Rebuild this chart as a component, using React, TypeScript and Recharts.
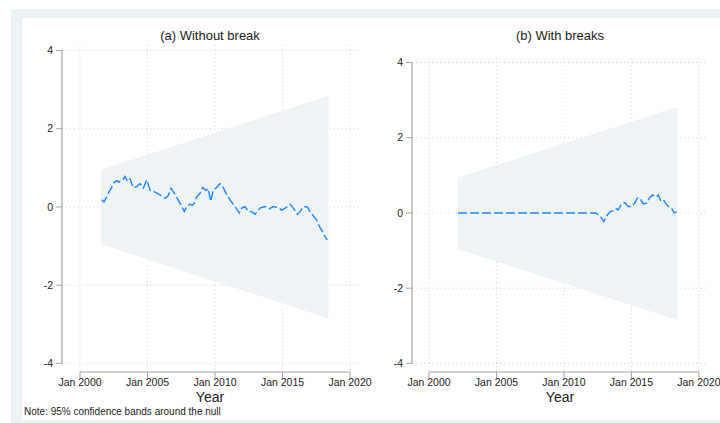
import React from "react";
import {
  Area,
  CartesianGrid,
  ComposedChart,
  Line,
  ReferenceLine,
  XAxis,
  YAxis,
} from "recharts";

// Tick values shared by both panels
const yearTicks = [2000, 2005, 2010, 2015, 2020];
const valueTicks = [-4, -2, 0, 2, 4];

// (a) Without break: confidence band around the null
const bandAYears = [2001.55, 2018.4];
const bandALow = [-0.95, -2.85];
const bandAHigh = [0.95, 2.84];

// (a) Without break: recursive statistic
const seriesAYears = [
  2001.61, 2001.78, 2001.98, 2002.17, 2002.35, 2002.44, 2002.72, 2002.88,
  2003.04, 2003.2, 2003.33, 2003.53, 2003.7, 2003.95, 2004.2, 2004.44, 2004.69,
  2004.94, 2005.19, 2005.4, 2005.56, 2005.75, 2005.93, 2006.12, 2006.3, 2006.54,
  2006.74, 2006.99, 2007.24, 2007.48, 2007.73, 2007.9, 2008.15, 2008.3, 2008.47,
  2008.64, 2008.89, 2009.09, 2009.33, 2009.5, 2009.68, 2009.87, 2010.13,
  2010.37, 2010.57, 2010.87, 2011.11, 2011.48, 2011.8, 2011.98, 2012.22,
  2012.47, 2012.72, 2012.96, 2013.33, 2013.7, 2014.02, 2014.32, 2014.69,
  2014.94, 2015.26, 2015.56, 2015.8, 2016.1, 2016.3, 2016.54, 2016.84, 2017.04,
  2017.33, 2017.53, 2017.73, 2017.9, 2018.15, 2018.32,
];
const seriesAValues = [
  0.18, 0.13, 0.26, 0.4, 0.5, 0.6, 0.67, 0.63, 0.69, 0.7, 0.78, 0.65, 0.72,
  0.49, 0.52, 0.6, 0.48, 0.69, 0.43, 0.41, 0.38, 0.34, 0.31, 0.26, 0.22, 0.29,
  0.48, 0.35, 0.2, 0.05, -0.12, 0.01, 0.07, 0.04, 0.09, 0.26, 0.35, 0.5, 0.42,
  0.47, 0.14, 0.43, 0.5, 0.6, 0.52, 0.31, 0.18, 0.01, -0.16, -0.03, 0.01, -0.12,
  -0.12, -0.19, -0.03, 0.01, -0.05, 0.01, -0.02, -0.08, -0.02, 0.07, -0.03,
  -0.19, -0.12, 0.01, 0.0, -0.12, -0.25, -0.33, -0.5, -0.59, -0.76, -0.84,
];

// (b) With breaks: confidence band around the null
const bandBYears = [2002.15, 2018.4];
const bandBLow = [-0.96, -2.85];
const bandBHigh = [0.94, 2.82];

// (b) With breaks: statistic, flat at zero before the break
const seriesBYears = [
  2002.15, 2012.37, 2012.54, 2012.79, 2012.96, 2013.16, 2013.41, 2013.65,
  2013.85, 2014.02, 2014.27, 2014.52, 2014.76, 2015.01, 2015.26, 2015.43,
  2015.63, 2015.87, 2016.13, 2016.32, 2016.57, 2016.81, 2016.99, 2017.19,
  2017.41, 2017.56, 2017.8, 2017.98, 2018.17, 2018.35,
];
const seriesBValues = [
  0, 0, -0.05, -0.14, -0.23, -0.08, 0.03, 0.06, 0.12, 0.08, 0.24, 0.27, 0.17,
  0.17, 0.27, 0.39, 0.39, 0.24, 0.26, 0.39, 0.48, 0.42, 0.48, 0.3, 0.33, 0.24,
  0.15, 0.12, 0.0, 0.03,
];

const FONT = '"Liberation Sans", Arial, Helvetica, sans-serif';
const LINE_COLOR = "#1a86ff";
const BAND_COLOR = "#eef3f6";
const AXIS_COLOR = "#a4a4a4";
const TEXT_COLOR = "#1c1c1c";

type PanelProps = {
  left: number;
  width: number;
  marginTop: number;
  marginRight: number;
  marginLeft: number;
  xDomain: [number, number];
  yDomain: [number, number];
  bandYears: number[];
  bandLow: number[];
  bandHigh: number[];
  years: number[];
  values: number[];
};

function Panel(p: PanelProps) {
  const band = p.bandYears.map((year, i) => ({
    year,
    range: [p.bandLow[i], p.bandHigh[i]],
  }));
  const series = p.years.map((year, i) => ({ year, v: p.values[i] }));
  const tickStyle = { fontSize: 10.5, fill: TEXT_COLOR, fontFamily: FONT };

  return (
    <div style={{ position: "absolute", left: p.left, top: 0 }}>
      <ComposedChart
        width={p.width}
        height={423}
        margin={{
          top: p.marginTop,
          right: p.marginRight,
          bottom: 21,
          left: p.marginLeft,
        }}
      >
        <CartesianGrid
          stroke="#cfcfcf"
          strokeDasharray="1 3"
          horizontalValues={valueTicks}
          verticalValues={yearTicks}
        />
        <XAxis
          type="number"
          dataKey="year"
          domain={p.xDomain}
          allowDataOverflow
          ticks={yearTicks}
          tickFormatter={(v) => `Jan ${v}`}
          axisLine={false}
          tickLine={{ stroke: AXIS_COLOR }}
          tickSize={6}
          tickMargin={1}
          height={30}
          tick={tickStyle}
          interval={0}
        />
        <YAxis
          type="number"
          domain={p.yDomain}
          allowDataOverflow
          ticks={valueTicks}
          axisLine={false}
          tickLine={{ stroke: AXIS_COLOR }}
          tickSize={6}
          tickMargin={3}
          width={40}
          tick={tickStyle}
          interval={0}
        />
        <Area
          data={band}
          dataKey="range"
          type="linear"
          stroke="none"
          fill={BAND_COLOR}
          fillOpacity={1}
          isAnimationActive={false}
        />
        <Line
          data={series}
          dataKey="v"
          type="linear"
          stroke={LINE_COLOR}
          strokeWidth={1.4}
          strokeDasharray="9 3"
          dot={false}
          isAnimationActive={false}
        />
        {/* offset axis lines, Stata style */}
        <ReferenceLine
          segment={[
            { x: p.xDomain[0], y: -4 },
            { x: p.xDomain[0], y: 4 },
          ]}
          stroke={AXIS_COLOR}
          strokeWidth={1.2}
          ifOverflow="visible"
        />
        <ReferenceLine
          segment={[
            { x: 2000, y: p.yDomain[0] },
            { x: 2020, y: p.yDomain[0] },
          ]}
          stroke={AXIS_COLOR}
          strokeWidth={1.2}
          ifOverflow="visible"
        />
      </ComposedChart>
    </div>
  );
}

const labelStyle: React.CSSProperties = {
  position: "absolute",
  fontFamily: FONT,
  color: TEXT_COLOR,
  whiteSpace: "nowrap",
  transform: "translate(-50%, -50%)",
  lineHeight: 1,
};

export default function App() {
  return (
    <div
      style={{
        position: "absolute",
        left: 0,
        top: 0,
        width: 720,
        height: 423,
        background: "#ffffff",
        overflow: "hidden",
      }}
    >
      <div
        style={{
          position: "absolute",
          left: 11,
          top: 9,
          width: 709,
          height: 414,
          background: "#eaf2f3",
        }}
      />
      <div
        style={{
          position: "absolute",
          left: 22,
          top: 18,
          width: 698,
          height: 402,
          background: "#ffffff",
        }}
      />
      <Panel
        left={0}
        width={385}
        marginTop={45}
        marginRight={25}
        marginLeft={22}
        xDomain={[1998.667, 2020.74]}
        yDomain={[-4.22, 4.14]}
        bandYears={bandAYears}
        bandLow={bandALow}
        bandHigh={bandAHigh}
        years={seriesAYears}
        values={seriesAValues}
      />
      <Panel
        left={360}
        width={360}
        marginTop={58}
        marginRight={13}
        marginLeft={12}
        xDomain={[1998.74, 2020.6]}
        yDomain={[-4.23, 4.12]}
        bandYears={bandBYears}
        bandLow={bandBLow}
        bandHigh={bandBHigh}
        years={seriesBYears}
        values={seriesBValues}
      />
      <div style={{ ...labelStyle, left: 210, top: 35, fontSize: 13 }}>
        (a) Without break
      </div>
      <div style={{ ...labelStyle, left: 560, top: 35, fontSize: 13 }}>
        (b) With breaks
      </div>
      <div style={{ ...labelStyle, left: 210, top: 397, fontSize: 14 }}>
        Year
      </div>
      <div style={{ ...labelStyle, left: 560, top: 397, fontSize: 14 }}>
        Year
      </div>
      <div
        style={{
          ...labelStyle,
          transform: "translate(0, -50%)",
          left: 24,
          top: 412,
          fontSize: 10,
        }}
      >
        Note: 95% confidence bands around the null
      </div>
    </div>
  );
}
